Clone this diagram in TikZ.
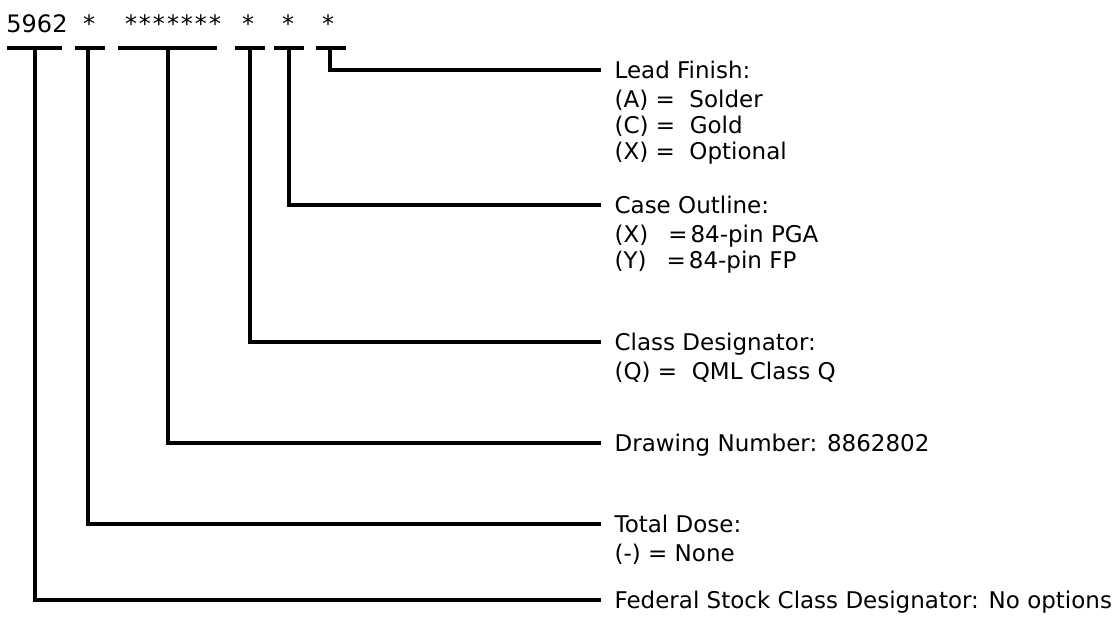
\documentclass[tikz,border=0pt]{standalone}
\usepackage{fontspec}
\setmainfont{DejaVu Sans}
\usetikzlibrary{positioning}

\tikzset{every picture/.style={line width=3.2pt}}
\tikzset{
  code/.style={inner sep=0pt, anchor=base, font=\fontsize{24}{26}\selectfont},
  head/.style={inner sep=0pt, anchor=west, text height=17pt, text depth=0pt, font=\fontsize{23}{26}\selectfont},
  opts/.style={inner sep=0pt, align=left, font=\fontsize{23}{26}\selectfont},
}

\begin{document}
\begin{tikzpicture}[x=1pt,y=1pt,yscale=-1,xscale=1]
\useasboundingbox (0,0) rectangle (1119,618);

% Text Node
\node[code] (pn) at (37,33) {5962};
\node[code] (sdose) at (89,33) {*};
\node[code] (sdwg) at (173,33) {*\hspace{2pt}*\hspace{2pt}*\hspace{2pt}*\hspace{2pt}*\hspace{2pt}*\hspace{2pt}*};
\node[code] (scls) at (248,33) {*};
\node[code] (scase) at (288,33) {*};
\node[code] (slead) at (328,33) {*};

%Straight Lines: bars under the fields
\foreach \n/\x/\l/\r in {fsc/35/7/62, dose/88/75/105, dwg/168/118/217, cls/250/235/265, case/289/274/304, lead/330/316/346}{
  \coordinate (\n) at (\x,48);
  \draw (\l,48) -- (\r,48);
}

% Text Node
\node[head] (leadh) at (613,70) {Lead Finish:};
\node[opts, below=8pt of leadh.south west, anchor=north west] (leado) {(A) = \ Solder\\(C) = \ Gold\\(X) = \ Optional};
% Text Node
\node[head] (caseh) at (613,205) {Case Outline:};
\node[opts, below=8pt of caseh.south west, anchor=north west] (caseo) {(X)\hspace{20pt}=\hspace{3pt}84-pin PGA\\(Y)\hspace{20pt}=\hspace{3pt}84-pin FP};
% Text Node
\node[head] (clsh) at (613,342) {Class Designator:};
\node[opts, below=8pt of clsh.south west, anchor=north west] (clso) {(Q) = \ QML Class Q};
% Text Node
\node[head] (dwgh) at (613,443) {Drawing Number: 8862802};
% Text Node
\node[head] (doseh) at (613,524) {Total Dose:};
\node[opts, below=8pt of doseh.south west, anchor=north west] (doseo) {(-) = None};
% Text Node
\node[head] (fsch) at (613,600) {Federal Stock Class Designator: No options};

%Straight Lines: leaders
\draw (lead) |- ([xshift=-12pt]leadh.west);
\draw (case) |- ([xshift=-12pt]caseh.west);
\draw (cls) |- ([xshift=-12pt]clsh.west);
\draw (dwg) |- ([xshift=-12pt]dwgh.west);
\draw (dose) |- ([xshift=-12pt]doseh.west);
\draw (fsc) |- ([xshift=-12pt]fsch.west);

\end{tikzpicture}
\end{document}
